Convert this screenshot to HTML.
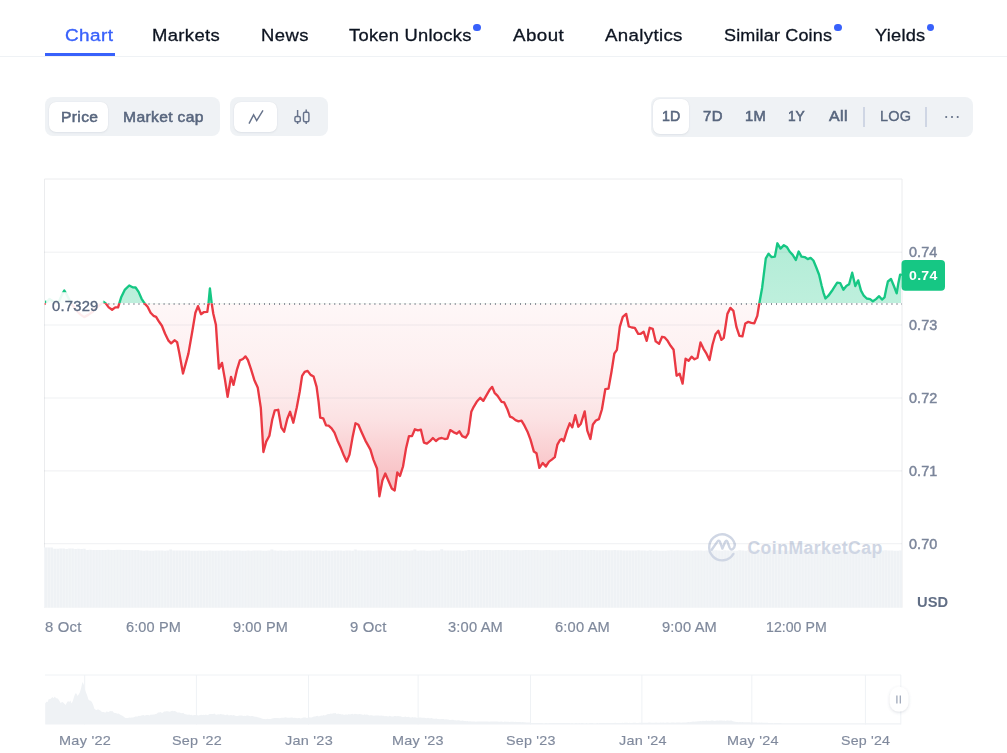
<!DOCTYPE html>
<html><head><meta charset="utf-8">
<style>
*{box-sizing:border-box;margin:0;padding:0}
html,body{width:1007px;height:753px;background:#fff;overflow:hidden}
body{font-family:"Liberation Sans",sans-serif;position:relative;color:#0d1421}
.abs{position:absolute;white-space:nowrap}
.t{position:absolute;white-space:nowrap;line-height:20px;height:20px}
.dot{position:absolute;width:7.8px;height:7.6px;border-radius:50%;background:#3861fb}
.grp{position:absolute;background:#eff2f5;border-radius:8px}
.sel{position:absolute;background:#fff;border-radius:7px;box-shadow:0 1px 2px rgba(128,138,157,.12),0 0 1px rgba(128,138,157,.2)}
</style></head><body>
<div class="dot" style="left:473.1px;top:23.7px"></div>
<div class="dot" style="left:834.2px;top:23.7px"></div>
<div class="dot" style="left:926.6px;top:23.7px"></div>
<div class="abs" style="left:0;top:56px;width:1007px;height:1px;background:#eff2f5"></div>
<div class="abs" style="left:45px;top:53px;width:70px;height:3px;background:#3861fb"></div>

<div class="grp" style="left:45px;top:97px;width:175px;height:39px"></div>
<div class="sel" style="left:49px;top:101.5px;width:59px;height:30.5px"></div>
<div class="grp" style="left:230px;top:97px;width:98px;height:39px"></div>
<div class="sel" style="left:234px;top:101.5px;width:43px;height:30.5px"></div>
<div class="grp" style="left:651px;top:97px;width:322px;height:39.5px"></div>
<div class="sel" style="left:652.5px;top:99px;width:36.5px;height:34.5px"></div>
<div class="abs" style="left:863px;top:107px;width:1.5px;height:20px;background:#cfd6e4"></div>
<div class="abs" style="left:925.2px;top:107px;width:1.5px;height:20px;background:#cfd6e4"></div>

<svg class="abs" style="left:0;top:0" width="1007" height="753" viewBox="0 0 1007 753">
<defs>
<linearGradient id="gr" x1="0" y1="303" x2="0" y2="497" gradientUnits="userSpaceOnUse"><stop offset="0" stop-color="#ea3943" stop-opacity="0.04"/><stop offset="0.294" stop-color="#ea3943" stop-opacity="0.075"/><stop offset="0.5" stop-color="#ea3943" stop-opacity="0.115"/><stop offset="0.603" stop-color="#ea3943" stop-opacity="0.15"/><stop offset="0.784" stop-color="#ea3943" stop-opacity="0.25"/><stop offset="0.861" stop-color="#ea3943" stop-opacity="0.29"/><stop offset="1" stop-color="#ea3943" stop-opacity="0.34"/></linearGradient>
<linearGradient id="gg" x1="0" y1="243" x2="0" y2="303" gradientUnits="userSpaceOnUse"><stop offset="0" stop-color="#16c784" stop-opacity="0.33"/><stop offset="1" stop-color="#16c784" stop-opacity="0.28"/></linearGradient>
<clipPath id="cu"><rect x="44" y="170" width="858" height="133.2"/></clipPath>
<clipPath id="cd"><rect x="44" y="303.2" width="858" height="300"/></clipPath>
<pattern id="st" x="44" y="0" width="2.9792" height="10" patternUnits="userSpaceOnUse"><rect x="0" y="0" width="0.55" height="10" fill="#fff" opacity="0.45"/></pattern>
</defs>
<!-- icons -->
<path d="M249,123.7 L253.6,114.9 L256.7,120.6 L263,110.4" fill="none" stroke="#67738b" stroke-width="1.45" stroke-linejoin="miter"/>
<g fill="none" stroke="#67738b" stroke-width="1.45">
<line x1="297.6" x2="297.6" y1="110" y2="116.3"/><line x1="297.6" x2="297.6" y1="121.9" y2="124"/>
<rect x="294.9" y="116.5" width="5.4" height="5.3" rx="1.5"/>
<line x1="306.2" x2="306.2" y1="109.5" y2="112"/><line x1="306.2" x2="306.2" y1="121.9" y2="124"/>
<rect x="303.5" y="112.2" width="5.4" height="9.6" rx="1.5"/>
</g>
<circle cx="946.2" cy="117" r="1.05" fill="#616e85"/><circle cx="952" cy="117" r="1.05" fill="#616e85"/><circle cx="957.7" cy="117" r="1.05" fill="#616e85"/>
<!-- grid -->
<path d="M44.5,607.7 V179 H902 V607.7" fill="none" stroke="#ebecee" stroke-width="1"/>

<!-- volume -->
<path d="M44,607.7 L44.0,547.5 L47.0,547.5 L47.0,547.6 L50.0,547.6 L50.0,547.5 L52.9,547.5 L52.9,548.8 L55.9,548.8 L55.9,548.8 L58.9,548.8 L58.9,548.5 L61.9,548.5 L61.9,548.5 L64.9,548.5 L64.9,548.9 L67.8,548.9 L67.8,548.6 L70.8,548.6 L70.8,548.6 L73.8,548.6 L73.8,548.9 L76.8,548.9 L76.8,548.7 L79.8,548.7 L79.8,548.9 L82.7,548.9 L82.7,548.7 L85.7,548.7 L85.7,550.0 L88.7,550.0 L88.7,549.7 L91.7,549.7 L91.7,550.0 L94.6,550.0 L94.6,550.1 L97.6,550.1 L97.6,549.9 L100.6,549.9 L100.6,550.0 L103.6,550.0 L103.6,550.0 L106.6,550.0 L106.6,549.7 L109.5,549.7 L109.5,550.0 L112.5,550.0 L112.5,549.9 L115.5,549.9 L115.5,549.8 L118.5,549.8 L118.5,549.7 L121.5,549.7 L121.5,550.1 L124.4,550.1 L124.4,549.9 L127.4,549.9 L127.4,550.0 L130.4,550.0 L130.4,550.1 L133.4,550.1 L133.4,550.0 L136.4,550.0 L136.4,550.1 L139.3,550.1 L139.3,550.5 L142.3,550.5 L142.3,550.8 L145.3,550.8 L145.3,550.6 L148.3,550.6 L148.3,550.8 L151.2,550.8 L151.2,550.8 L154.2,550.8 L154.2,550.4 L157.2,550.4 L157.2,550.4 L160.2,550.4 L160.2,550.5 L163.2,550.5 L163.2,550.8 L166.1,550.8 L166.1,550.6 L169.1,550.6 L169.1,549.5 L172.1,549.5 L172.1,550.5 L175.1,550.5 L175.1,550.6 L178.1,550.6 L178.1,550.5 L181.0,550.5 L181.0,550.5 L184.0,550.5 L184.0,550.6 L187.0,550.6 L187.0,550.6 L190.0,550.6 L190.0,550.8 L193.0,550.8 L193.0,550.7 L195.9,550.7 L195.9,550.8 L198.9,550.8 L198.9,550.8 L201.9,550.8 L201.9,550.8 L204.9,550.8 L204.9,550.7 L207.9,550.7 L207.9,550.4 L210.8,550.4 L210.8,550.8 L213.8,550.8 L213.8,550.8 L216.8,550.8 L216.8,550.8 L219.8,550.8 L219.8,550.6 L222.8,550.6 L222.8,550.7 L225.7,550.7 L225.7,550.5 L228.7,550.5 L228.7,550.8 L231.7,550.8 L231.7,550.6 L234.7,550.6 L234.7,550.5 L237.6,550.5 L237.6,550.4 L240.6,550.4 L240.6,550.8 L243.6,550.8 L243.6,550.8 L246.6,550.8 L246.6,550.4 L249.6,550.4 L249.6,550.8 L252.5,550.8 L252.5,550.6 L255.5,550.6 L255.5,550.4 L258.5,550.4 L258.5,550.5 L261.5,550.5 L261.5,550.7 L264.5,550.7 L264.5,550.8 L267.4,550.8 L267.4,550.4 L270.4,550.4 L270.4,549.5 L273.4,549.5 L273.4,550.4 L276.4,550.4 L276.4,550.7 L279.4,550.7 L279.4,550.5 L282.3,550.5 L282.3,550.8 L285.3,550.8 L285.3,550.8 L288.3,550.8 L288.3,550.6 L291.3,550.6 L291.3,550.8 L294.2,550.8 L294.2,550.5 L297.2,550.5 L297.2,550.4 L300.2,550.4 L300.2,550.6 L303.2,550.6 L303.2,550.4 L306.2,550.4 L306.2,550.4 L309.1,550.4 L309.1,550.6 L312.1,550.6 L312.1,550.7 L315.1,550.7 L315.1,550.4 L318.1,550.4 L318.1,550.4 L321.1,550.4 L321.1,550.8 L324.0,550.8 L324.0,550.5 L327.0,550.5 L327.0,550.8 L330.0,550.8 L330.0,550.8 L333.0,550.8 L333.0,550.5 L336.0,550.5 L336.0,550.6 L338.9,550.6 L338.9,550.6 L341.9,550.6 L341.9,550.7 L344.9,550.7 L344.9,550.6 L347.9,550.6 L347.9,550.6 L350.9,550.6 L350.9,550.7 L353.8,550.7 L353.8,549.6 L356.8,549.6 L356.8,550.6 L359.8,550.6 L359.8,550.6 L362.8,550.6 L362.8,550.7 L365.8,550.7 L365.8,550.5 L368.7,550.5 L368.7,550.5 L371.7,550.5 L371.7,550.8 L374.7,550.8 L374.7,550.6 L377.7,550.6 L377.7,550.6 L380.6,550.6 L380.6,550.4 L383.6,550.4 L383.6,550.6 L386.6,550.6 L386.6,550.6 L389.6,550.6 L389.6,550.4 L392.6,550.4 L392.6,550.7 L395.5,550.7 L395.5,550.7 L398.5,550.7 L398.5,550.4 L401.5,550.4 L401.5,550.7 L404.5,550.7 L404.5,550.6 L407.5,550.6 L407.5,550.7 L410.4,550.7 L410.4,550.5 L413.4,550.5 L413.4,549.5 L416.4,549.5 L416.4,550.7 L419.4,550.7 L419.4,550.4 L422.4,550.4 L422.4,550.4 L425.3,550.4 L425.3,550.7 L428.3,550.7 L428.3,550.8 L431.3,550.8 L431.3,550.5 L434.3,550.5 L434.3,550.6 L437.2,550.6 L437.2,550.6 L440.2,550.6 L440.2,549.3 L443.2,549.3 L443.2,550.5 L446.2,550.5 L446.2,550.5 L449.2,550.5 L449.2,550.5 L452.1,550.5 L452.1,550.6 L455.1,550.6 L455.1,550.5 L458.1,550.5 L458.1,550.5 L461.1,550.5 L461.1,550.7 L464.1,550.7 L464.1,550.4 L467.0,550.4 L467.0,550.1 L470.0,550.1 L470.0,550.2 L473.0,550.2 L473.0,550.0 L476.0,550.0 L476.0,550.0 L479.0,550.0 L479.0,550.3 L481.9,550.3 L481.9,550.0 L484.9,550.0 L484.9,549.9 L487.9,549.9 L487.9,550.1 L490.9,550.1 L490.9,550.2 L493.9,550.2 L493.9,549.9 L496.8,549.9 L496.8,550.0 L499.8,550.0 L499.8,550.0 L502.8,550.0 L502.8,550.3 L505.8,550.3 L505.8,550.1 L508.8,550.1 L508.8,550.3 L511.7,550.3 L511.7,549.9 L514.7,549.9 L514.7,550.0 L517.7,550.0 L517.7,550.2 L520.7,550.2 L520.7,550.3 L523.6,550.3 L523.6,550.1 L526.6,550.1 L526.6,550.0 L529.6,550.0 L529.6,549.9 L532.6,549.9 L532.6,550.1 L535.6,550.1 L535.6,549.9 L538.5,549.9 L538.5,550.3 L541.5,550.3 L541.5,550.3 L544.5,550.3 L544.5,549.9 L547.5,549.9 L547.5,550.0 L550.5,550.0 L550.5,550.3 L553.4,550.3 L553.4,550.2 L556.4,550.2 L556.4,550.3 L559.4,550.3 L559.4,550.0 L562.4,550.0 L562.4,549.9 L565.4,549.9 L565.4,550.0 L568.3,550.0 L568.3,550.2 L571.3,550.2 L571.3,550.0 L574.3,550.0 L574.3,550.0 L577.3,550.0 L577.3,550.1 L580.2,550.1 L580.2,550.1 L583.2,550.1 L583.2,550.1 L586.2,550.1 L586.2,550.3 L589.2,550.3 L589.2,549.9 L592.2,549.9 L592.2,549.9 L595.1,549.9 L595.1,550.3 L598.1,550.3 L598.1,550.3 L601.1,550.3 L601.1,550.3 L604.1,550.3 L604.1,550.1 L607.1,550.1 L607.1,550.3 L610.0,550.3 L610.0,550.3 L613.0,550.3 L613.0,550.0 L616.0,550.0 L616.0,550.2 L619.0,550.2 L619.0,550.3 L622.0,550.3 L622.0,550.6 L624.9,550.6 L624.9,550.5 L627.9,550.5 L627.9,550.4 L630.9,550.4 L630.9,550.4 L633.9,550.4 L633.9,550.4 L636.9,550.4 L636.9,550.3 L639.8,550.3 L639.8,550.5 L642.8,550.5 L642.8,550.4 L645.8,550.4 L645.8,550.7 L648.8,550.7 L648.8,550.3 L651.8,550.3 L651.8,550.7 L654.7,550.7 L654.7,550.6 L657.7,550.6 L657.7,550.7 L660.7,550.7 L660.7,550.7 L663.7,550.7 L663.7,550.7 L666.6,550.7 L666.6,550.5 L669.6,550.5 L669.6,550.3 L672.6,550.3 L672.6,550.6 L675.6,550.6 L675.6,550.3 L678.6,550.3 L678.6,550.4 L681.5,550.4 L681.5,550.6 L684.5,550.6 L684.5,550.5 L687.5,550.5 L687.5,550.5 L690.5,550.5 L690.5,550.7 L693.5,550.7 L693.5,550.6 L696.4,550.6 L696.4,550.4 L699.4,550.4 L699.4,550.4 L702.4,550.4 L702.4,550.7 L705.4,550.7 L705.4,550.5 L708.4,550.5 L708.4,550.6 L711.3,550.6 L711.3,550.4 L714.3,550.4 L714.3,550.3 L717.3,550.3 L717.3,550.5 L720.3,550.5 L720.3,550.7 L723.2,550.7 L723.2,550.3 L726.2,550.3 L726.2,550.6 L729.2,550.6 L729.2,550.7 L732.2,550.7 L732.2,550.7 L735.2,550.7 L735.2,550.7 L738.1,550.7 L738.1,550.3 L741.1,550.3 L741.1,550.6 L744.1,550.6 L744.1,550.7 L747.1,550.7 L747.1,550.3 L750.1,550.3 L750.1,550.4 L753.0,550.4 L753.0,550.4 L756.0,550.4 L756.0,550.5 L759.0,550.5 L759.0,550.5 L762.0,550.5 L762.0,550.5 L765.0,550.5 L765.0,550.6 L767.9,550.6 L767.9,550.3 L770.9,550.3 L770.9,550.3 L773.9,550.3 L773.9,550.3 L776.9,550.3 L776.9,550.3 L779.9,550.3 L779.9,550.3 L782.8,550.3 L782.8,550.7 L785.8,550.7 L785.8,550.7 L788.8,550.7 L788.8,550.3 L791.8,550.3 L791.8,550.5 L794.8,550.5 L794.8,550.4 L797.7,550.4 L797.7,550.4 L800.7,550.4 L800.7,550.4 L803.7,550.4 L803.7,550.6 L806.7,550.6 L806.7,550.5 L809.6,550.5 L809.6,550.4 L812.6,550.4 L812.6,550.3 L815.6,550.3 L815.6,550.4 L818.6,550.4 L818.6,550.3 L821.6,550.3 L821.6,550.5 L824.5,550.5 L824.5,550.6 L827.5,550.6 L827.5,550.4 L830.5,550.4 L830.5,550.3 L833.5,550.3 L833.5,550.3 L836.5,550.3 L836.5,550.4 L839.4,550.4 L839.4,550.6 L842.4,550.6 L842.4,550.6 L845.4,550.6 L845.4,550.4 L848.4,550.4 L848.4,550.7 L851.4,550.7 L851.4,550.6 L854.3,550.6 L854.3,550.5 L857.3,550.5 L857.3,550.4 L860.3,550.4 L860.3,550.5 L863.3,550.5 L863.3,550.6 L866.2,550.6 L866.2,550.5 L869.2,550.5 L869.2,550.6 L872.2,550.6 L872.2,550.5 L875.2,550.5 L875.2,550.4 L878.2,550.4 L878.2,550.5 L881.1,550.5 L881.1,550.6 L884.1,550.6 L884.1,550.3 L887.1,550.3 L887.1,550.5 L890.1,550.5 L890.1,550.5 L893.1,550.5 L893.1,550.7 L896.0,550.7 L896.0,550.7 L899.0,550.7 L899.0,550.4 L902.0,550.4 L902,607.7 Z" fill="#eff2f5"/>
<path d="M44,607.7 L44.0,547.5 L47.0,547.5 L47.0,547.6 L50.0,547.6 L50.0,547.5 L52.9,547.5 L52.9,548.8 L55.9,548.8 L55.9,548.8 L58.9,548.8 L58.9,548.5 L61.9,548.5 L61.9,548.5 L64.9,548.5 L64.9,548.9 L67.8,548.9 L67.8,548.6 L70.8,548.6 L70.8,548.6 L73.8,548.6 L73.8,548.9 L76.8,548.9 L76.8,548.7 L79.8,548.7 L79.8,548.9 L82.7,548.9 L82.7,548.7 L85.7,548.7 L85.7,550.0 L88.7,550.0 L88.7,549.7 L91.7,549.7 L91.7,550.0 L94.6,550.0 L94.6,550.1 L97.6,550.1 L97.6,549.9 L100.6,549.9 L100.6,550.0 L103.6,550.0 L103.6,550.0 L106.6,550.0 L106.6,549.7 L109.5,549.7 L109.5,550.0 L112.5,550.0 L112.5,549.9 L115.5,549.9 L115.5,549.8 L118.5,549.8 L118.5,549.7 L121.5,549.7 L121.5,550.1 L124.4,550.1 L124.4,549.9 L127.4,549.9 L127.4,550.0 L130.4,550.0 L130.4,550.1 L133.4,550.1 L133.4,550.0 L136.4,550.0 L136.4,550.1 L139.3,550.1 L139.3,550.5 L142.3,550.5 L142.3,550.8 L145.3,550.8 L145.3,550.6 L148.3,550.6 L148.3,550.8 L151.2,550.8 L151.2,550.8 L154.2,550.8 L154.2,550.4 L157.2,550.4 L157.2,550.4 L160.2,550.4 L160.2,550.5 L163.2,550.5 L163.2,550.8 L166.1,550.8 L166.1,550.6 L169.1,550.6 L169.1,549.5 L172.1,549.5 L172.1,550.5 L175.1,550.5 L175.1,550.6 L178.1,550.6 L178.1,550.5 L181.0,550.5 L181.0,550.5 L184.0,550.5 L184.0,550.6 L187.0,550.6 L187.0,550.6 L190.0,550.6 L190.0,550.8 L193.0,550.8 L193.0,550.7 L195.9,550.7 L195.9,550.8 L198.9,550.8 L198.9,550.8 L201.9,550.8 L201.9,550.8 L204.9,550.8 L204.9,550.7 L207.9,550.7 L207.9,550.4 L210.8,550.4 L210.8,550.8 L213.8,550.8 L213.8,550.8 L216.8,550.8 L216.8,550.8 L219.8,550.8 L219.8,550.6 L222.8,550.6 L222.8,550.7 L225.7,550.7 L225.7,550.5 L228.7,550.5 L228.7,550.8 L231.7,550.8 L231.7,550.6 L234.7,550.6 L234.7,550.5 L237.6,550.5 L237.6,550.4 L240.6,550.4 L240.6,550.8 L243.6,550.8 L243.6,550.8 L246.6,550.8 L246.6,550.4 L249.6,550.4 L249.6,550.8 L252.5,550.8 L252.5,550.6 L255.5,550.6 L255.5,550.4 L258.5,550.4 L258.5,550.5 L261.5,550.5 L261.5,550.7 L264.5,550.7 L264.5,550.8 L267.4,550.8 L267.4,550.4 L270.4,550.4 L270.4,549.5 L273.4,549.5 L273.4,550.4 L276.4,550.4 L276.4,550.7 L279.4,550.7 L279.4,550.5 L282.3,550.5 L282.3,550.8 L285.3,550.8 L285.3,550.8 L288.3,550.8 L288.3,550.6 L291.3,550.6 L291.3,550.8 L294.2,550.8 L294.2,550.5 L297.2,550.5 L297.2,550.4 L300.2,550.4 L300.2,550.6 L303.2,550.6 L303.2,550.4 L306.2,550.4 L306.2,550.4 L309.1,550.4 L309.1,550.6 L312.1,550.6 L312.1,550.7 L315.1,550.7 L315.1,550.4 L318.1,550.4 L318.1,550.4 L321.1,550.4 L321.1,550.8 L324.0,550.8 L324.0,550.5 L327.0,550.5 L327.0,550.8 L330.0,550.8 L330.0,550.8 L333.0,550.8 L333.0,550.5 L336.0,550.5 L336.0,550.6 L338.9,550.6 L338.9,550.6 L341.9,550.6 L341.9,550.7 L344.9,550.7 L344.9,550.6 L347.9,550.6 L347.9,550.6 L350.9,550.6 L350.9,550.7 L353.8,550.7 L353.8,549.6 L356.8,549.6 L356.8,550.6 L359.8,550.6 L359.8,550.6 L362.8,550.6 L362.8,550.7 L365.8,550.7 L365.8,550.5 L368.7,550.5 L368.7,550.5 L371.7,550.5 L371.7,550.8 L374.7,550.8 L374.7,550.6 L377.7,550.6 L377.7,550.6 L380.6,550.6 L380.6,550.4 L383.6,550.4 L383.6,550.6 L386.6,550.6 L386.6,550.6 L389.6,550.6 L389.6,550.4 L392.6,550.4 L392.6,550.7 L395.5,550.7 L395.5,550.7 L398.5,550.7 L398.5,550.4 L401.5,550.4 L401.5,550.7 L404.5,550.7 L404.5,550.6 L407.5,550.6 L407.5,550.7 L410.4,550.7 L410.4,550.5 L413.4,550.5 L413.4,549.5 L416.4,549.5 L416.4,550.7 L419.4,550.7 L419.4,550.4 L422.4,550.4 L422.4,550.4 L425.3,550.4 L425.3,550.7 L428.3,550.7 L428.3,550.8 L431.3,550.8 L431.3,550.5 L434.3,550.5 L434.3,550.6 L437.2,550.6 L437.2,550.6 L440.2,550.6 L440.2,549.3 L443.2,549.3 L443.2,550.5 L446.2,550.5 L446.2,550.5 L449.2,550.5 L449.2,550.5 L452.1,550.5 L452.1,550.6 L455.1,550.6 L455.1,550.5 L458.1,550.5 L458.1,550.5 L461.1,550.5 L461.1,550.7 L464.1,550.7 L464.1,550.4 L467.0,550.4 L467.0,550.1 L470.0,550.1 L470.0,550.2 L473.0,550.2 L473.0,550.0 L476.0,550.0 L476.0,550.0 L479.0,550.0 L479.0,550.3 L481.9,550.3 L481.9,550.0 L484.9,550.0 L484.9,549.9 L487.9,549.9 L487.9,550.1 L490.9,550.1 L490.9,550.2 L493.9,550.2 L493.9,549.9 L496.8,549.9 L496.8,550.0 L499.8,550.0 L499.8,550.0 L502.8,550.0 L502.8,550.3 L505.8,550.3 L505.8,550.1 L508.8,550.1 L508.8,550.3 L511.7,550.3 L511.7,549.9 L514.7,549.9 L514.7,550.0 L517.7,550.0 L517.7,550.2 L520.7,550.2 L520.7,550.3 L523.6,550.3 L523.6,550.1 L526.6,550.1 L526.6,550.0 L529.6,550.0 L529.6,549.9 L532.6,549.9 L532.6,550.1 L535.6,550.1 L535.6,549.9 L538.5,549.9 L538.5,550.3 L541.5,550.3 L541.5,550.3 L544.5,550.3 L544.5,549.9 L547.5,549.9 L547.5,550.0 L550.5,550.0 L550.5,550.3 L553.4,550.3 L553.4,550.2 L556.4,550.2 L556.4,550.3 L559.4,550.3 L559.4,550.0 L562.4,550.0 L562.4,549.9 L565.4,549.9 L565.4,550.0 L568.3,550.0 L568.3,550.2 L571.3,550.2 L571.3,550.0 L574.3,550.0 L574.3,550.0 L577.3,550.0 L577.3,550.1 L580.2,550.1 L580.2,550.1 L583.2,550.1 L583.2,550.1 L586.2,550.1 L586.2,550.3 L589.2,550.3 L589.2,549.9 L592.2,549.9 L592.2,549.9 L595.1,549.9 L595.1,550.3 L598.1,550.3 L598.1,550.3 L601.1,550.3 L601.1,550.3 L604.1,550.3 L604.1,550.1 L607.1,550.1 L607.1,550.3 L610.0,550.3 L610.0,550.3 L613.0,550.3 L613.0,550.0 L616.0,550.0 L616.0,550.2 L619.0,550.2 L619.0,550.3 L622.0,550.3 L622.0,550.6 L624.9,550.6 L624.9,550.5 L627.9,550.5 L627.9,550.4 L630.9,550.4 L630.9,550.4 L633.9,550.4 L633.9,550.4 L636.9,550.4 L636.9,550.3 L639.8,550.3 L639.8,550.5 L642.8,550.5 L642.8,550.4 L645.8,550.4 L645.8,550.7 L648.8,550.7 L648.8,550.3 L651.8,550.3 L651.8,550.7 L654.7,550.7 L654.7,550.6 L657.7,550.6 L657.7,550.7 L660.7,550.7 L660.7,550.7 L663.7,550.7 L663.7,550.7 L666.6,550.7 L666.6,550.5 L669.6,550.5 L669.6,550.3 L672.6,550.3 L672.6,550.6 L675.6,550.6 L675.6,550.3 L678.6,550.3 L678.6,550.4 L681.5,550.4 L681.5,550.6 L684.5,550.6 L684.5,550.5 L687.5,550.5 L687.5,550.5 L690.5,550.5 L690.5,550.7 L693.5,550.7 L693.5,550.6 L696.4,550.6 L696.4,550.4 L699.4,550.4 L699.4,550.4 L702.4,550.4 L702.4,550.7 L705.4,550.7 L705.4,550.5 L708.4,550.5 L708.4,550.6 L711.3,550.6 L711.3,550.4 L714.3,550.4 L714.3,550.3 L717.3,550.3 L717.3,550.5 L720.3,550.5 L720.3,550.7 L723.2,550.7 L723.2,550.3 L726.2,550.3 L726.2,550.6 L729.2,550.6 L729.2,550.7 L732.2,550.7 L732.2,550.7 L735.2,550.7 L735.2,550.7 L738.1,550.7 L738.1,550.3 L741.1,550.3 L741.1,550.6 L744.1,550.6 L744.1,550.7 L747.1,550.7 L747.1,550.3 L750.1,550.3 L750.1,550.4 L753.0,550.4 L753.0,550.4 L756.0,550.4 L756.0,550.5 L759.0,550.5 L759.0,550.5 L762.0,550.5 L762.0,550.5 L765.0,550.5 L765.0,550.6 L767.9,550.6 L767.9,550.3 L770.9,550.3 L770.9,550.3 L773.9,550.3 L773.9,550.3 L776.9,550.3 L776.9,550.3 L779.9,550.3 L779.9,550.3 L782.8,550.3 L782.8,550.7 L785.8,550.7 L785.8,550.7 L788.8,550.7 L788.8,550.3 L791.8,550.3 L791.8,550.5 L794.8,550.5 L794.8,550.4 L797.7,550.4 L797.7,550.4 L800.7,550.4 L800.7,550.4 L803.7,550.4 L803.7,550.6 L806.7,550.6 L806.7,550.5 L809.6,550.5 L809.6,550.4 L812.6,550.4 L812.6,550.3 L815.6,550.3 L815.6,550.4 L818.6,550.4 L818.6,550.3 L821.6,550.3 L821.6,550.5 L824.5,550.5 L824.5,550.6 L827.5,550.6 L827.5,550.4 L830.5,550.4 L830.5,550.3 L833.5,550.3 L833.5,550.3 L836.5,550.3 L836.5,550.4 L839.4,550.4 L839.4,550.6 L842.4,550.6 L842.4,550.6 L845.4,550.6 L845.4,550.4 L848.4,550.4 L848.4,550.7 L851.4,550.7 L851.4,550.6 L854.3,550.6 L854.3,550.5 L857.3,550.5 L857.3,550.4 L860.3,550.4 L860.3,550.5 L863.3,550.5 L863.3,550.6 L866.2,550.6 L866.2,550.5 L869.2,550.5 L869.2,550.6 L872.2,550.6 L872.2,550.5 L875.2,550.5 L875.2,550.4 L878.2,550.4 L878.2,550.5 L881.1,550.5 L881.1,550.6 L884.1,550.6 L884.1,550.3 L887.1,550.3 L887.1,550.5 L890.1,550.5 L890.1,550.5 L893.1,550.5 L893.1,550.7 L896.0,550.7 L896.0,550.7 L899.0,550.7 L899.0,550.4 L902.0,550.4 L902,607.7 Z" fill="url(#st)"/>
<!-- watermark -->
<g fill="none" stroke="#cfd6e4" stroke-width="2.4" stroke-linecap="round" stroke-linejoin="round">
<path d="M733.4,553.9 A13,13 0 1 1 734.9,544.6"/>
<path d="M711.7,549.8 L717.4,541.6 Q718.9,539.6 720,541.8 L722.4,548.6 L725.2,541.8 Q726.4,539.6 727.5,541.8 L729.6,547.6 Q730.8,550.4 732.8,549 Q734.7,547.6 734.9,544.6"/>
</g>
<text x="747.4" y="554.2" font-family="Liberation Sans, sans-serif" font-weight="bold" font-size="17.6" fill="#cfd6e4" textLength="134.8" lengthAdjust="spacing">CoinMarketCap</text>
<!-- chart -->
<path d="M103.7,301.8 L105.7,303.4 L108.7,307.4 L112.1,309.8 L115.3,307.4 L118.1,307.4 L119.3,303.4 L121.3,296.9 L124.7,289.9 L129.2,285.5 L132.6,287.3 L135.6,287.5 L138.6,291.9 L141.6,298.8 L144.6,303.4 L147.6,306.8 L150.6,312.8 L153.5,315.8 L156.1,316.8 L159.1,321.8 L161.9,325.7 L165.1,333.7 L168.5,340.7 L171.1,343.3 L174.5,340.3 L177.1,342.1 L179.4,353.6 L183.0,373.5 L188.4,353.6 L192.4,330.7 L195.4,312.8 L198.0,306.2 L201.0,314.2 L203.7,312.2 L207.3,311.8 L208.5,303.4 L209.9,288.5 L211.7,303.4 L213.3,313.8 L215.9,324.7 L217.7,351.6 L218.9,368.6 L222.0,362.9 L225.0,379.9 L227.6,396.8 L231.0,376.9 L233.5,384.9 L236.9,369.9 L239.9,360.4 L242.9,359.0 L245.5,356.4 L247.9,360.0 L250.9,368.9 L254.3,379.9 L257.8,387.8 L260.8,407.8 L263.4,452.0 L266.2,441.6 L269.4,435.7 L272.2,419.7 L274.8,410.4 L278.2,409.8 L281.4,427.7 L284.1,431.7 L287.3,418.7 L290.1,411.8 L293.3,422.7 L296.7,407.8 L299.7,391.8 L302.1,375.9 L304.7,371.9 L307.6,370.9 L310.6,374.9 L313.6,376.5 L316.6,386.9 L318.6,401.8 L320.2,417.7 L323.2,418.3 L326.0,425.3 L328.6,425.7 L331.6,428.3 L334.5,432.7 L337.9,441.6 L341.1,448.6 L343.9,455.6 L346.7,461.6 L349.5,454.6 L352.5,437.6 L355.5,423.3 L358.4,424.7 L361.4,431.7 L365.4,440.6 L370.4,449.6 L373.4,459.6 L377.0,468.5 L379.4,496.4 L382.4,480.5 L385.3,473.5 L388.3,480.5 L391.7,488.4 L394.7,490.4 L397.3,472.5 L400.0,475.9 L403.0,466.5 L406.0,448.6 L409.0,436.1 L412.0,436.1 L414.9,429.3 L417.9,430.3 L420.9,429.7 L423.9,442.6 L426.9,443.6 L429.9,441.2 L432.9,438.0 L435.9,441.0 L438.8,438.6 L441.8,438.0 L444.8,439.0 L447.4,438.6 L450.2,430.1 L453.4,432.1 L456.8,433.7 L459.4,431.3 L462.2,436.1 L465.7,437.6 L468.3,433.3 L469.7,423.7 L471.3,411.8 L473.7,406.8 L476.7,401.8 L480.3,397.8 L483.3,400.8 L486.7,394.8 L489.6,389.8 L492.2,386.9 L494.6,392.8 L497.6,395.8 L501.6,401.8 L504.2,402.4 L507.6,409.8 L510.0,416.7 L512.5,417.7 L515.5,420.1 L518.5,421.3 L521.5,420.7 L524.5,425.7 L527.5,431.7 L530.5,439.6 L533.9,451.6 L536.5,453.2 L539.4,467.9 L542.8,462.9 L545.8,466.5 L549.0,461.6 L551.8,459.6 L554.8,457.2 L557.4,444.6 L560.0,440.0 L561.8,439.0 L563.7,441.2 L566.9,430.7 L569.7,423.3 L572.3,427.3 L575.3,415.1 L578.3,426.7 L580.9,423.7 L584.7,411.4 L587.3,430.7 L590.4,439.0 L592.9,424.5 L595.9,420.5 L598.9,419.1 L601.9,409.5 L605.3,389.2 L608.5,388.6 L611.5,371.7 L614.3,353.7 L616.9,349.8 L619.8,326.9 L622.8,316.9 L626.2,313.9 L628.8,326.5 L631.8,327.5 L634.8,327.8 L638.2,333.8 L640.8,333.8 L643.7,331.8 L646.7,340.8 L649.7,327.8 L652.7,328.8 L655.7,341.4 L659.1,343.8 L662.1,336.8 L664.7,337.4 L667.6,340.8 L670.6,345.8 L673.6,349.8 L676.6,375.7 L679.6,373.7 L682.6,383.6 L685.6,358.7 L688.6,360.7 L691.6,356.7 L694.5,359.3 L697.5,357.7 L700.5,342.4 L703.5,348.8 L706.5,353.7 L709.5,360.1 L712.5,344.8 L715.5,334.2 L718.4,330.8 L721.4,339.8 L723.8,337.8 L727.4,313.9 L730.4,307.9 L733.4,310.9 L736.4,326.9 L739.4,335.8 L742.4,336.4 L745.3,323.5 L748.3,321.9 L751.3,322.9 L754.3,323.3 L757.3,315.9 L759.3,303.5 L762.1,288.0 L763.8,274.4 L765.8,258.3 L768.6,253.7 L771.5,257.1 L774.9,256.6 L777.4,243.3 L780.5,248.6 L783.9,245.2 L786.8,246.9 L789.6,251.5 L792.7,254.9 L795.8,260.0 L798.7,251.5 L801.5,256.6 L804.6,257.1 L807.7,259.1 L810.6,257.9 L813.4,260.5 L816.2,267.3 L819.1,274.7 L821.6,285.5 L823.6,293.1 L825.5,298.5 L828.4,295.7 L832.7,289.7 L837.2,282.6 L840.3,283.2 L843.4,289.7 L846.3,286.0 L849.1,284.3 L852.2,272.7 L855.3,286.0 L858.2,280.4 L861.0,290.6 L863.8,295.7 L866.7,298.5 L870.1,299.1 L872.9,301.3 L876.0,299.1 L879.1,296.2 L882.0,299.6 L884.5,297.4 L886.2,288.9 L887.9,281.5 L891.0,279.0 L893.9,286.0 L896.7,293.4 L898.4,282.9 L900.1,274.7 L901.0,274.7 L901.0,303.2 L103.7,303.2 Z" fill="url(#gg)" clip-path="url(#cu)"/>
<path d="M103.7,301.8 L105.7,303.4 L108.7,307.4 L112.1,309.8 L115.3,307.4 L118.1,307.4 L119.3,303.4 L121.3,296.9 L124.7,289.9 L129.2,285.5 L132.6,287.3 L135.6,287.5 L138.6,291.9 L141.6,298.8 L144.6,303.4 L147.6,306.8 L150.6,312.8 L153.5,315.8 L156.1,316.8 L159.1,321.8 L161.9,325.7 L165.1,333.7 L168.5,340.7 L171.1,343.3 L174.5,340.3 L177.1,342.1 L179.4,353.6 L183.0,373.5 L188.4,353.6 L192.4,330.7 L195.4,312.8 L198.0,306.2 L201.0,314.2 L203.7,312.2 L207.3,311.8 L208.5,303.4 L209.9,288.5 L211.7,303.4 L213.3,313.8 L215.9,324.7 L217.7,351.6 L218.9,368.6 L222.0,362.9 L225.0,379.9 L227.6,396.8 L231.0,376.9 L233.5,384.9 L236.9,369.9 L239.9,360.4 L242.9,359.0 L245.5,356.4 L247.9,360.0 L250.9,368.9 L254.3,379.9 L257.8,387.8 L260.8,407.8 L263.4,452.0 L266.2,441.6 L269.4,435.7 L272.2,419.7 L274.8,410.4 L278.2,409.8 L281.4,427.7 L284.1,431.7 L287.3,418.7 L290.1,411.8 L293.3,422.7 L296.7,407.8 L299.7,391.8 L302.1,375.9 L304.7,371.9 L307.6,370.9 L310.6,374.9 L313.6,376.5 L316.6,386.9 L318.6,401.8 L320.2,417.7 L323.2,418.3 L326.0,425.3 L328.6,425.7 L331.6,428.3 L334.5,432.7 L337.9,441.6 L341.1,448.6 L343.9,455.6 L346.7,461.6 L349.5,454.6 L352.5,437.6 L355.5,423.3 L358.4,424.7 L361.4,431.7 L365.4,440.6 L370.4,449.6 L373.4,459.6 L377.0,468.5 L379.4,496.4 L382.4,480.5 L385.3,473.5 L388.3,480.5 L391.7,488.4 L394.7,490.4 L397.3,472.5 L400.0,475.9 L403.0,466.5 L406.0,448.6 L409.0,436.1 L412.0,436.1 L414.9,429.3 L417.9,430.3 L420.9,429.7 L423.9,442.6 L426.9,443.6 L429.9,441.2 L432.9,438.0 L435.9,441.0 L438.8,438.6 L441.8,438.0 L444.8,439.0 L447.4,438.6 L450.2,430.1 L453.4,432.1 L456.8,433.7 L459.4,431.3 L462.2,436.1 L465.7,437.6 L468.3,433.3 L469.7,423.7 L471.3,411.8 L473.7,406.8 L476.7,401.8 L480.3,397.8 L483.3,400.8 L486.7,394.8 L489.6,389.8 L492.2,386.9 L494.6,392.8 L497.6,395.8 L501.6,401.8 L504.2,402.4 L507.6,409.8 L510.0,416.7 L512.5,417.7 L515.5,420.1 L518.5,421.3 L521.5,420.7 L524.5,425.7 L527.5,431.7 L530.5,439.6 L533.9,451.6 L536.5,453.2 L539.4,467.9 L542.8,462.9 L545.8,466.5 L549.0,461.6 L551.8,459.6 L554.8,457.2 L557.4,444.6 L560.0,440.0 L561.8,439.0 L563.7,441.2 L566.9,430.7 L569.7,423.3 L572.3,427.3 L575.3,415.1 L578.3,426.7 L580.9,423.7 L584.7,411.4 L587.3,430.7 L590.4,439.0 L592.9,424.5 L595.9,420.5 L598.9,419.1 L601.9,409.5 L605.3,389.2 L608.5,388.6 L611.5,371.7 L614.3,353.7 L616.9,349.8 L619.8,326.9 L622.8,316.9 L626.2,313.9 L628.8,326.5 L631.8,327.5 L634.8,327.8 L638.2,333.8 L640.8,333.8 L643.7,331.8 L646.7,340.8 L649.7,327.8 L652.7,328.8 L655.7,341.4 L659.1,343.8 L662.1,336.8 L664.7,337.4 L667.6,340.8 L670.6,345.8 L673.6,349.8 L676.6,375.7 L679.6,373.7 L682.6,383.6 L685.6,358.7 L688.6,360.7 L691.6,356.7 L694.5,359.3 L697.5,357.7 L700.5,342.4 L703.5,348.8 L706.5,353.7 L709.5,360.1 L712.5,344.8 L715.5,334.2 L718.4,330.8 L721.4,339.8 L723.8,337.8 L727.4,313.9 L730.4,307.9 L733.4,310.9 L736.4,326.9 L739.4,335.8 L742.4,336.4 L745.3,323.5 L748.3,321.9 L751.3,322.9 L754.3,323.3 L757.3,315.9 L759.3,303.5 L762.1,288.0 L763.8,274.4 L765.8,258.3 L768.6,253.7 L771.5,257.1 L774.9,256.6 L777.4,243.3 L780.5,248.6 L783.9,245.2 L786.8,246.9 L789.6,251.5 L792.7,254.9 L795.8,260.0 L798.7,251.5 L801.5,256.6 L804.6,257.1 L807.7,259.1 L810.6,257.9 L813.4,260.5 L816.2,267.3 L819.1,274.7 L821.6,285.5 L823.6,293.1 L825.5,298.5 L828.4,295.7 L832.7,289.7 L837.2,282.6 L840.3,283.2 L843.4,289.7 L846.3,286.0 L849.1,284.3 L852.2,272.7 L855.3,286.0 L858.2,280.4 L861.0,290.6 L863.8,295.7 L866.7,298.5 L870.1,299.1 L872.9,301.3 L876.0,299.1 L879.1,296.2 L882.0,299.6 L884.5,297.4 L886.2,288.9 L887.9,281.5 L891.0,279.0 L893.9,286.0 L896.7,293.4 L898.4,282.9 L900.1,274.7 L901.0,274.7 L901.0,303.2 L103.7,303.2 Z" fill="url(#gr)" clip-path="url(#cd)"/>
<line x1="44" x2="902" y1="252.2" y2="252.2" stroke="#808a9d" stroke-opacity="0.13" stroke-width="1"/>
<line x1="44" x2="902" y1="325.0" y2="325.0" stroke="#808a9d" stroke-opacity="0.13" stroke-width="1"/>
<line x1="44" x2="902" y1="398.0" y2="398.0" stroke="#808a9d" stroke-opacity="0.13" stroke-width="1"/>
<line x1="44" x2="902" y1="470.9" y2="470.9" stroke="#808a9d" stroke-opacity="0.13" stroke-width="1"/>
<line x1="44" x2="902" y1="543.7" y2="543.7" stroke="#808a9d" stroke-opacity="0.13" stroke-width="1"/>

<line x1="108.36" x2="902" y1="304" y2="304" stroke="#8a8f98" stroke-width="1.8" stroke-dasharray="1 4.02"/>
<path d="M103.7,301.8 L105.7,303.4 L108.7,307.4 L112.1,309.8 L115.3,307.4 L118.1,307.4 L119.3,303.4 L121.3,296.9 L124.7,289.9 L129.2,285.5 L132.6,287.3 L135.6,287.5 L138.6,291.9 L141.6,298.8 L144.6,303.4 L147.6,306.8 L150.6,312.8 L153.5,315.8 L156.1,316.8 L159.1,321.8 L161.9,325.7 L165.1,333.7 L168.5,340.7 L171.1,343.3 L174.5,340.3 L177.1,342.1 L179.4,353.6 L183.0,373.5 L188.4,353.6 L192.4,330.7 L195.4,312.8 L198.0,306.2 L201.0,314.2 L203.7,312.2 L207.3,311.8 L208.5,303.4 L209.9,288.5 L211.7,303.4 L213.3,313.8 L215.9,324.7 L217.7,351.6 L218.9,368.6 L222.0,362.9 L225.0,379.9 L227.6,396.8 L231.0,376.9 L233.5,384.9 L236.9,369.9 L239.9,360.4 L242.9,359.0 L245.5,356.4 L247.9,360.0 L250.9,368.9 L254.3,379.9 L257.8,387.8 L260.8,407.8 L263.4,452.0 L266.2,441.6 L269.4,435.7 L272.2,419.7 L274.8,410.4 L278.2,409.8 L281.4,427.7 L284.1,431.7 L287.3,418.7 L290.1,411.8 L293.3,422.7 L296.7,407.8 L299.7,391.8 L302.1,375.9 L304.7,371.9 L307.6,370.9 L310.6,374.9 L313.6,376.5 L316.6,386.9 L318.6,401.8 L320.2,417.7 L323.2,418.3 L326.0,425.3 L328.6,425.7 L331.6,428.3 L334.5,432.7 L337.9,441.6 L341.1,448.6 L343.9,455.6 L346.7,461.6 L349.5,454.6 L352.5,437.6 L355.5,423.3 L358.4,424.7 L361.4,431.7 L365.4,440.6 L370.4,449.6 L373.4,459.6 L377.0,468.5 L379.4,496.4 L382.4,480.5 L385.3,473.5 L388.3,480.5 L391.7,488.4 L394.7,490.4 L397.3,472.5 L400.0,475.9 L403.0,466.5 L406.0,448.6 L409.0,436.1 L412.0,436.1 L414.9,429.3 L417.9,430.3 L420.9,429.7 L423.9,442.6 L426.9,443.6 L429.9,441.2 L432.9,438.0 L435.9,441.0 L438.8,438.6 L441.8,438.0 L444.8,439.0 L447.4,438.6 L450.2,430.1 L453.4,432.1 L456.8,433.7 L459.4,431.3 L462.2,436.1 L465.7,437.6 L468.3,433.3 L469.7,423.7 L471.3,411.8 L473.7,406.8 L476.7,401.8 L480.3,397.8 L483.3,400.8 L486.7,394.8 L489.6,389.8 L492.2,386.9 L494.6,392.8 L497.6,395.8 L501.6,401.8 L504.2,402.4 L507.6,409.8 L510.0,416.7 L512.5,417.7 L515.5,420.1 L518.5,421.3 L521.5,420.7 L524.5,425.7 L527.5,431.7 L530.5,439.6 L533.9,451.6 L536.5,453.2 L539.4,467.9 L542.8,462.9 L545.8,466.5 L549.0,461.6 L551.8,459.6 L554.8,457.2 L557.4,444.6 L560.0,440.0 L561.8,439.0 L563.7,441.2 L566.9,430.7 L569.7,423.3 L572.3,427.3 L575.3,415.1 L578.3,426.7 L580.9,423.7 L584.7,411.4 L587.3,430.7 L590.4,439.0 L592.9,424.5 L595.9,420.5 L598.9,419.1 L601.9,409.5 L605.3,389.2 L608.5,388.6 L611.5,371.7 L614.3,353.7 L616.9,349.8 L619.8,326.9 L622.8,316.9 L626.2,313.9 L628.8,326.5 L631.8,327.5 L634.8,327.8 L638.2,333.8 L640.8,333.8 L643.7,331.8 L646.7,340.8 L649.7,327.8 L652.7,328.8 L655.7,341.4 L659.1,343.8 L662.1,336.8 L664.7,337.4 L667.6,340.8 L670.6,345.8 L673.6,349.8 L676.6,375.7 L679.6,373.7 L682.6,383.6 L685.6,358.7 L688.6,360.7 L691.6,356.7 L694.5,359.3 L697.5,357.7 L700.5,342.4 L703.5,348.8 L706.5,353.7 L709.5,360.1 L712.5,344.8 L715.5,334.2 L718.4,330.8 L721.4,339.8 L723.8,337.8 L727.4,313.9 L730.4,307.9 L733.4,310.9 L736.4,326.9 L739.4,335.8 L742.4,336.4 L745.3,323.5 L748.3,321.9 L751.3,322.9 L754.3,323.3 L757.3,315.9 L759.3,303.5 L762.1,288.0 L763.8,274.4 L765.8,258.3 L768.6,253.7 L771.5,257.1 L774.9,256.6 L777.4,243.3 L780.5,248.6 L783.9,245.2 L786.8,246.9 L789.6,251.5 L792.7,254.9 L795.8,260.0 L798.7,251.5 L801.5,256.6 L804.6,257.1 L807.7,259.1 L810.6,257.9 L813.4,260.5 L816.2,267.3 L819.1,274.7 L821.6,285.5 L823.6,293.1 L825.5,298.5 L828.4,295.7 L832.7,289.7 L837.2,282.6 L840.3,283.2 L843.4,289.7 L846.3,286.0 L849.1,284.3 L852.2,272.7 L855.3,286.0 L858.2,280.4 L861.0,290.6 L863.8,295.7 L866.7,298.5 L870.1,299.1 L872.9,301.3 L876.0,299.1 L879.1,296.2 L882.0,299.6 L884.5,297.4 L886.2,288.9 L887.9,281.5 L891.0,279.0 L893.9,286.0 L896.7,293.4 L898.4,282.9 L900.1,274.7 L901.0,274.7" fill="none" stroke="#16c784" stroke-width="2.35" stroke-linejoin="round" stroke-linecap="round" clip-path="url(#cu)"/>
<path d="M103.7,301.8 L105.7,303.4 L108.7,307.4 L112.1,309.8 L115.3,307.4 L118.1,307.4 L119.3,303.4 L121.3,296.9 L124.7,289.9 L129.2,285.5 L132.6,287.3 L135.6,287.5 L138.6,291.9 L141.6,298.8 L144.6,303.4 L147.6,306.8 L150.6,312.8 L153.5,315.8 L156.1,316.8 L159.1,321.8 L161.9,325.7 L165.1,333.7 L168.5,340.7 L171.1,343.3 L174.5,340.3 L177.1,342.1 L179.4,353.6 L183.0,373.5 L188.4,353.6 L192.4,330.7 L195.4,312.8 L198.0,306.2 L201.0,314.2 L203.7,312.2 L207.3,311.8 L208.5,303.4 L209.9,288.5 L211.7,303.4 L213.3,313.8 L215.9,324.7 L217.7,351.6 L218.9,368.6 L222.0,362.9 L225.0,379.9 L227.6,396.8 L231.0,376.9 L233.5,384.9 L236.9,369.9 L239.9,360.4 L242.9,359.0 L245.5,356.4 L247.9,360.0 L250.9,368.9 L254.3,379.9 L257.8,387.8 L260.8,407.8 L263.4,452.0 L266.2,441.6 L269.4,435.7 L272.2,419.7 L274.8,410.4 L278.2,409.8 L281.4,427.7 L284.1,431.7 L287.3,418.7 L290.1,411.8 L293.3,422.7 L296.7,407.8 L299.7,391.8 L302.1,375.9 L304.7,371.9 L307.6,370.9 L310.6,374.9 L313.6,376.5 L316.6,386.9 L318.6,401.8 L320.2,417.7 L323.2,418.3 L326.0,425.3 L328.6,425.7 L331.6,428.3 L334.5,432.7 L337.9,441.6 L341.1,448.6 L343.9,455.6 L346.7,461.6 L349.5,454.6 L352.5,437.6 L355.5,423.3 L358.4,424.7 L361.4,431.7 L365.4,440.6 L370.4,449.6 L373.4,459.6 L377.0,468.5 L379.4,496.4 L382.4,480.5 L385.3,473.5 L388.3,480.5 L391.7,488.4 L394.7,490.4 L397.3,472.5 L400.0,475.9 L403.0,466.5 L406.0,448.6 L409.0,436.1 L412.0,436.1 L414.9,429.3 L417.9,430.3 L420.9,429.7 L423.9,442.6 L426.9,443.6 L429.9,441.2 L432.9,438.0 L435.9,441.0 L438.8,438.6 L441.8,438.0 L444.8,439.0 L447.4,438.6 L450.2,430.1 L453.4,432.1 L456.8,433.7 L459.4,431.3 L462.2,436.1 L465.7,437.6 L468.3,433.3 L469.7,423.7 L471.3,411.8 L473.7,406.8 L476.7,401.8 L480.3,397.8 L483.3,400.8 L486.7,394.8 L489.6,389.8 L492.2,386.9 L494.6,392.8 L497.6,395.8 L501.6,401.8 L504.2,402.4 L507.6,409.8 L510.0,416.7 L512.5,417.7 L515.5,420.1 L518.5,421.3 L521.5,420.7 L524.5,425.7 L527.5,431.7 L530.5,439.6 L533.9,451.6 L536.5,453.2 L539.4,467.9 L542.8,462.9 L545.8,466.5 L549.0,461.6 L551.8,459.6 L554.8,457.2 L557.4,444.6 L560.0,440.0 L561.8,439.0 L563.7,441.2 L566.9,430.7 L569.7,423.3 L572.3,427.3 L575.3,415.1 L578.3,426.7 L580.9,423.7 L584.7,411.4 L587.3,430.7 L590.4,439.0 L592.9,424.5 L595.9,420.5 L598.9,419.1 L601.9,409.5 L605.3,389.2 L608.5,388.6 L611.5,371.7 L614.3,353.7 L616.9,349.8 L619.8,326.9 L622.8,316.9 L626.2,313.9 L628.8,326.5 L631.8,327.5 L634.8,327.8 L638.2,333.8 L640.8,333.8 L643.7,331.8 L646.7,340.8 L649.7,327.8 L652.7,328.8 L655.7,341.4 L659.1,343.8 L662.1,336.8 L664.7,337.4 L667.6,340.8 L670.6,345.8 L673.6,349.8 L676.6,375.7 L679.6,373.7 L682.6,383.6 L685.6,358.7 L688.6,360.7 L691.6,356.7 L694.5,359.3 L697.5,357.7 L700.5,342.4 L703.5,348.8 L706.5,353.7 L709.5,360.1 L712.5,344.8 L715.5,334.2 L718.4,330.8 L721.4,339.8 L723.8,337.8 L727.4,313.9 L730.4,307.9 L733.4,310.9 L736.4,326.9 L739.4,335.8 L742.4,336.4 L745.3,323.5 L748.3,321.9 L751.3,322.9 L754.3,323.3 L757.3,315.9 L759.3,303.5 L762.1,288.0 L763.8,274.4 L765.8,258.3 L768.6,253.7 L771.5,257.1 L774.9,256.6 L777.4,243.3 L780.5,248.6 L783.9,245.2 L786.8,246.9 L789.6,251.5 L792.7,254.9 L795.8,260.0 L798.7,251.5 L801.5,256.6 L804.6,257.1 L807.7,259.1 L810.6,257.9 L813.4,260.5 L816.2,267.3 L819.1,274.7 L821.6,285.5 L823.6,293.1 L825.5,298.5 L828.4,295.7 L832.7,289.7 L837.2,282.6 L840.3,283.2 L843.4,289.7 L846.3,286.0 L849.1,284.3 L852.2,272.7 L855.3,286.0 L858.2,280.4 L861.0,290.6 L863.8,295.7 L866.7,298.5 L870.1,299.1 L872.9,301.3 L876.0,299.1 L879.1,296.2 L882.0,299.6 L884.5,297.4 L886.2,288.9 L887.9,281.5 L891.0,279.0 L893.9,286.0 L896.7,293.4 L898.4,282.9 L900.1,274.7 L901.0,274.7" fill="none" stroke="#ea3943" stroke-width="2.35" stroke-linejoin="round" stroke-linecap="round" clip-path="url(#cd)"/>
<path d="M46.1,302.8 L49.4,298.9 L52.5,301.0 L56.0,302.6 L59.2,301.0 L61.9,294.7 L64.3,290.5 L66.8,294.7 L69.5,300.1 L71.3,303.4 L75.7,309.5 L80.2,314.4 L84.2,317.1 L88.3,314.9 L92.7,311.7 L95.4,308.6 L99.0,305.5 L101.7,303.4 L103.7,301.8 L103.7,303.2 L46.1,303.2 Z" fill="url(#gg)" clip-path="url(#cu)"/>
<path d="M46.1,302.8 L49.4,298.9 L52.5,301.0 L56.0,302.6 L59.2,301.0 L61.9,294.7 L64.3,290.5 L66.8,294.7 L69.5,300.1 L71.3,303.4 L75.7,309.5 L80.2,314.4 L84.2,317.1 L88.3,314.9 L92.7,311.7 L95.4,308.6 L99.0,305.5 L101.7,303.4 L103.7,301.8 L103.7,303.2 L46.1,303.2 Z" fill="url(#gr)" clip-path="url(#cd)"/>
<path d="M46.1,302.8 L49.4,298.9 L52.5,301.0 L56.0,302.6 L59.2,301.0 L61.9,294.7 L64.3,290.5 L66.8,294.7 L69.5,300.1 L71.3,303.4 L75.7,309.5 L80.2,314.4 L84.2,317.1 L88.3,314.9 L92.7,311.7 L95.4,308.6 L99.0,305.5 L101.7,303.4 L103.7,301.8" fill="none" stroke="#16c784" stroke-width="2.35" stroke-linejoin="round" clip-path="url(#cu)"/>
<path d="M46.1,302.8 L49.4,298.9 L52.5,301.0 L56.0,302.6 L59.2,301.0 L61.9,294.7 L64.3,290.5 L66.8,294.7 L69.5,300.1 L71.3,303.4 L75.7,309.5 L80.2,314.4 L84.2,317.1 L88.3,314.9 L92.7,311.7 L95.4,308.6 L99.0,305.5 L101.7,303.4 L103.7,301.8" fill="none" stroke="#ea3943" stroke-width="2.35" stroke-linejoin="round" clip-path="url(#cd)"/>
<rect x="46.2" y="292.2" width="57.2" height="29" fill="#fff" opacity="0.9"/>
<rect x="45" y="300.6" width="1" height="2.6" fill="#16c784"/><rect x="44.6" y="303.2" width="1.2" height="1.6" fill="#ea3943"/>
<!-- price tag -->
<rect x="901.5" y="260" width="43.5" height="30.8" rx="4" fill="#16c784"/>
<!-- mini chart -->
<line x1="45" x2="901" y1="675" y2="675" stroke="#eff2f5" stroke-width="1"/>
<line x1="900.8" x2="900.8" y1="675" y2="724.5" stroke="#eff2f5" stroke-width="1"/>
<line x1="84.7" x2="84.7" y1="675" y2="724.5" stroke="#eff2f5" stroke-width="1"/><line x1="196.4" x2="196.4" y1="675" y2="724.5" stroke="#eff2f5" stroke-width="1"/><line x1="308.5" x2="308.5" y1="675" y2="724.5" stroke="#eff2f5" stroke-width="1"/><line x1="418.1" x2="418.1" y1="675" y2="724.5" stroke="#eff2f5" stroke-width="1"/><line x1="530.5" x2="530.5" y1="675" y2="724.5" stroke="#eff2f5" stroke-width="1"/><line x1="641.9" x2="641.9" y1="675" y2="724.5" stroke="#eff2f5" stroke-width="1"/><line x1="751.8" x2="751.8" y1="675" y2="724.5" stroke="#eff2f5" stroke-width="1"/><line x1="865.4" x2="865.4" y1="675" y2="724.5" stroke="#eff2f5" stroke-width="1"/>
<path d="M45.2,703.5 L46.4,701.8 L47.6,701.9 L48.8,699.1 L50.0,699.2 L51.2,698.2 L52.4,697.0 L53.6,698.2 L54.8,696.5 L56.0,698.2 L57.2,698.2 L58.4,699.3 L59.6,701.3 L60.8,703.2 L62.0,701.8 L63.2,702.4 L64.4,703.8 L65.6,704.9 L66.8,702.8 L68.0,701.0 L69.2,702.1 L70.4,700.6 L71.6,703.6 L72.8,701.0 L74.0,697.1 L75.2,693.6 L76.4,693.5 L77.6,695.9 L78.8,694.3 L80.0,692.0 L81.2,687.8 L82.4,681.9 L83.6,684.1 L84.8,689.2 L86.0,692.6 L87.2,695.6 L88.4,699.6 L89.6,700.5 L90.8,700.8 L92.0,702.2 L93.2,705.1 L94.4,708.7 L95.6,709.8 L96.8,709.9 L98.0,709.3 L99.2,710.1 L100.4,710.6 L101.6,711.7 L102.8,712.0 L104.0,711.9 L105.2,712.8 L106.4,711.4 L107.6,711.7 L108.8,712.0 L110.0,710.9 L111.2,711.3 L112.4,711.1 L113.6,712.4 L114.8,712.9 L116.0,713.0 L117.2,713.8 L118.4,713.4 L119.6,714.3 L120.8,714.9 L122.0,715.6 L123.2,716.2 L124.4,717.3 L125.6,718.1 L126.8,718.0 L128.0,718.0 L129.2,717.4 L130.4,717.7 L131.6,717.5 L132.8,717.6 L134.0,717.2 L135.2,716.6 L136.4,716.4 L137.6,716.5 L138.8,715.7 L140.0,715.9 L141.2,715.4 L142.4,715.2 L143.6,715.1 L144.8,715.7 L146.0,715.0 L147.2,715.0 L148.4,715.1 L149.6,715.5 L150.8,714.6 L152.0,714.8 L153.2,714.5 L154.4,714.5 L155.6,714.1 L156.8,713.8 L158.0,712.6 L159.2,712.4 L160.4,712.1 L161.6,712.7 L162.8,712.7 L164.0,711.4 L165.2,711.4 L166.4,711.3 L167.6,711.3 L168.8,711.6 L170.0,711.7 L171.2,711.1 L172.4,710.7 L173.6,711.3 L174.8,711.1 L176.0,711.6 L177.2,712.5 L178.4,712.4 L179.6,712.4 L180.8,712.9 L182.0,713.3 L183.2,712.7 L184.4,714.1 L185.6,714.2 L186.8,714.6 L188.0,714.8 L189.2,714.6 L190.4,714.9 L191.6,714.7 L192.8,715.4 L194.0,714.9 L195.2,715.1 L196.4,715.3 L197.6,715.3 L198.8,715.4 L200.0,715.0 L201.2,714.8 L202.4,714.9 L203.6,714.7 L204.8,714.9 L206.0,714.4 L207.2,715.2 L208.4,714.8 L209.6,714.1 L210.8,714.1 L212.0,714.1 L213.2,713.9 L214.4,713.6 L215.6,714.5 L216.8,714.8 L218.0,714.3 L219.2,714.4 L220.4,714.1 L221.6,714.2 L222.8,714.6 L224.0,714.6 L225.2,715.3 L226.4,714.7 L227.6,714.6 L228.8,715.6 L230.0,715.2 L231.2,714.9 L232.4,715.4 L233.6,714.9 L234.8,715.5 L236.0,716.0 L237.2,716.0 L238.4,715.8 L239.6,715.5 L240.8,715.6 L242.0,715.4 L243.2,716.0 L244.4,715.7 L245.6,716.0 L246.8,715.5 L248.0,715.4 L249.2,716.0 L250.4,716.2 L251.6,716.1 L252.8,716.0 L254.0,716.4 L255.2,716.7 L256.4,716.7 L257.6,717.3 L258.8,717.6 L260.0,717.8 L261.2,718.2 L262.4,718.8 L263.6,718.9 L264.8,719.1 L266.0,719.2 L267.2,718.8 L268.4,719.0 L269.6,719.0 L270.8,718.9 L272.0,718.4 L273.2,718.2 L274.4,718.1 L275.6,718.0 L276.8,717.9 L278.0,718.1 L279.2,718.2 L280.4,718.1 L281.6,717.8 L282.8,717.8 L284.0,717.8 L285.2,717.2 L286.4,717.5 L287.6,717.8 L288.8,717.7 L290.0,717.8 L291.2,717.6 L292.4,717.5 L293.6,718.0 L294.8,717.7 L296.0,718.1 L297.2,718.3 L298.4,717.9 L299.6,718.0 L300.8,718.4 L302.0,718.1 L303.2,717.6 L304.4,717.5 L305.6,717.5 L306.8,717.9 L308.0,717.8 L309.2,717.2 L310.4,717.6 L311.6,717.6 L312.8,717.1 L314.0,716.6 L315.2,716.6 L316.4,716.0 L317.6,715.7 L318.8,716.4 L320.0,715.9 L321.2,715.6 L322.4,715.8 L323.6,715.1 L324.8,715.4 L326.0,715.1 L327.2,714.2 L328.4,714.0 L329.6,713.9 L330.8,713.6 L332.0,713.8 L333.2,713.2 L334.4,713.3 L335.6,713.1 L336.8,714.2 L338.0,713.6 L339.2,713.9 L340.4,714.1 L341.6,714.6 L342.8,714.2 L344.0,714.9 L345.2,714.5 L346.4,714.6 L347.6,714.7 L348.8,714.1 L350.0,714.5 L351.2,714.1 L352.4,713.8 L353.6,714.6 L354.8,713.8 L356.0,714.1 L357.2,714.3 L358.4,714.2 L359.6,714.0 L360.8,714.3 L362.0,714.5 L363.2,714.9 L364.4,714.2 L365.6,714.8 L366.8,714.6 L368.0,714.8 L369.2,715.4 L370.4,715.2 L371.6,715.3 L372.8,715.6 L374.0,715.8 L375.2,715.4 L376.4,715.6 L377.6,715.5 L378.8,715.6 L380.0,715.8 L381.2,715.6 L382.4,715.8 L383.6,715.8 L384.8,716.3 L386.0,716.1 L387.2,716.3 L388.4,716.4 L389.6,715.8 L390.8,716.2 L392.0,716.6 L393.2,716.5 L394.4,715.9 L395.6,716.0 L396.8,716.3 L398.0,716.0 L399.2,716.3 L400.4,716.2 L401.6,716.7 L402.8,716.9 L404.0,717.0 L405.2,716.5 L406.4,717.0 L407.6,717.1 L408.8,716.7 L410.0,717.4 L411.2,717.5 L412.4,717.0 L413.6,717.6 L414.8,717.3 L416.0,717.4 L417.2,717.9 L418.4,717.8 L419.6,717.4 L420.8,717.6 L422.0,717.8 L423.2,717.7 L424.4,717.7 L425.6,717.9 L426.8,718.2 L428.0,717.8 L429.2,718.3 L430.4,718.3 L431.6,718.1 L432.8,718.4 L434.0,718.7 L435.2,718.7 L436.4,718.5 L437.6,719.1 L438.8,719.1 L440.0,719.3 L441.2,718.9 L442.4,719.1 L443.6,719.0 L444.8,719.5 L446.0,719.3 L447.2,719.4 L448.4,719.6 L449.6,719.9 L450.8,720.0 L452.0,719.8 L453.2,719.8 L454.4,720.3 L455.6,720.2 L456.8,720.4 L458.0,720.2 L459.2,720.3 L460.4,720.7 L461.6,720.7 L462.8,720.6 L464.0,721.1 L465.2,721.0 L466.4,721.2 L467.6,721.0 L468.8,721.4 L470.0,721.2 L471.2,721.6 L472.4,721.5 L473.6,721.5 L474.8,721.5 L476.0,721.7 L477.2,721.5 L478.4,721.4 L479.6,721.6 L480.8,721.5 L482.0,721.5 L483.2,721.5 L484.4,721.5 L485.6,721.5 L486.8,721.5 L488.0,721.6 L489.2,721.7 L490.4,721.6 L491.6,721.6 L492.8,721.5 L494.0,721.6 L495.2,721.5 L496.4,721.6 L497.6,721.5 L498.8,721.8 L500.0,721.7 L501.2,721.6 L502.4,721.7 L503.6,721.9 L504.8,721.6 L506.0,721.8 L507.2,721.7 L508.4,721.8 L509.6,721.9 L510.8,721.7 L512.0,721.8 L513.2,721.8 L514.4,721.9 L515.6,721.8 L516.8,722.0 L518.0,722.0 L519.2,722.1 L520.4,722.1 L521.6,722.2 L522.8,722.1 L524.0,722.2 L525.2,722.3 L526.4,722.6 L527.6,722.5 L528.8,722.6 L530.0,722.6 L531.2,722.9 L532.4,723.0 L533.6,723.0 L534.8,723.0 L536.0,723.0 L537.2,723.0 L538.4,723.1 L539.6,723.0 L540.8,723.1 L542.0,723.0 L543.2,723.2 L544.4,723.2 L545.6,723.1 L546.8,723.0 L548.0,723.2 L549.2,723.0 L550.4,723.1 L551.6,723.0 L552.8,723.1 L554.0,723.1 L555.2,723.1 L556.4,723.0 L557.6,723.1 L558.8,723.0 L560.0,723.0 L561.2,723.0 L562.4,723.1 L563.6,723.0 L564.8,723.0 L566.0,723.0 L567.2,723.0 L568.4,723.1 L569.6,723.1 L570.8,723.2 L572.0,723.1 L573.2,723.2 L574.4,723.2 L575.6,723.1 L576.8,723.0 L578.0,723.2 L579.2,723.0 L580.4,723.2 L581.6,723.1 L582.8,723.0 L584.0,723.2 L585.2,723.2 L586.4,723.1 L587.6,723.2 L588.8,723.2 L590.0,723.0 L591.2,723.1 L592.4,723.1 L593.6,723.2 L594.8,723.2 L596.0,723.2 L597.2,723.1 L598.4,723.2 L599.6,723.1 L600.8,723.1 L602.0,723.0 L603.2,722.9 L604.4,722.9 L605.6,723.0 L606.8,722.9 L608.0,723.1 L609.2,723.0 L610.4,723.0 L611.6,723.0 L612.8,723.0 L614.0,723.0 L615.2,722.8 L616.4,723.1 L617.6,723.0 L618.8,722.9 L620.0,722.9 L621.2,723.0 L622.4,722.8 L623.6,723.0 L624.8,722.8 L626.0,722.8 L627.2,722.8 L628.4,722.9 L629.6,722.8 L630.8,722.9 L632.0,723.0 L633.2,722.8 L634.4,722.8 L635.6,722.8 L636.8,722.9 L638.0,722.9 L639.2,722.8 L640.4,722.8 L641.6,722.7 L642.8,722.7 L644.0,722.7 L645.2,722.8 L646.4,722.7 L647.6,722.8 L648.8,722.6 L650.0,722.6 L651.2,722.7 L652.4,722.8 L653.6,722.8 L654.8,722.8 L656.0,722.6 L657.2,722.7 L658.4,722.7 L659.6,722.7 L660.8,722.5 L662.0,722.8 L663.2,722.6 L664.4,722.8 L665.6,722.8 L666.8,722.5 L668.0,722.6 L669.2,722.7 L670.4,722.7 L671.6,722.6 L672.8,722.5 L674.0,722.5 L675.2,722.7 L676.4,722.5 L677.6,722.6 L678.8,722.4 L680.0,722.5 L681.2,722.7 L682.4,722.4 L683.6,722.6 L684.8,722.4 L686.0,722.5 L687.2,722.3 L688.4,722.1 L689.6,722.2 L690.8,721.9 L692.0,721.7 L693.2,721.6 L694.4,721.7 L695.6,721.5 L696.8,721.4 L698.0,721.2 L699.2,721.2 L700.4,721.1 L701.6,721.2 L702.8,720.8 L704.0,721.0 L705.2,720.9 L706.4,720.5 L707.6,720.9 L708.8,720.8 L710.0,720.9 L711.2,720.6 L712.4,720.6 L713.6,720.7 L714.8,720.9 L716.0,720.7 L717.2,720.6 L718.4,720.7 L719.6,720.6 L720.8,720.5 L722.0,720.5 L723.2,720.8 L724.4,720.6 L725.6,720.9 L726.8,720.6 L728.0,720.6 L729.2,720.7 L730.4,720.6 L731.6,720.6 L732.8,721.2 L734.0,721.4 L735.2,721.7 L736.4,721.9 L737.6,722.1 L738.8,722.2 L740.0,722.1 L741.2,722.2 L742.4,722.0 L743.6,722.2 L744.8,722.2 L746.0,722.3 L747.2,722.3 L748.4,722.2 L749.6,722.2 L750.8,722.5 L752.0,722.3 L753.2,722.4 L754.4,722.4 L755.6,722.4 L756.8,722.6 L758.0,722.7 L759.2,722.5 L760.4,722.7 L761.6,722.6 L762.8,722.7 L764.0,722.7 L765.2,722.7 L766.4,722.7 L767.6,722.7 L768.8,723.0 L770.0,722.9 L771.2,722.9 L772.4,723.1 L773.6,723.2 L774.8,723.0 L776.0,723.0 L777.2,723.0 L778.4,723.0 L779.6,723.1 L780.8,723.1 L782.0,723.2 L783.2,723.2 L784.4,723.3 L785.6,723.3 L786.8,723.3 L788.0,723.3 L789.2,723.3 L790.4,723.3 L791.6,723.3 L792.8,723.3 L794.0,723.2 L795.2,723.3 L796.4,723.3 L797.6,723.3 L798.8,723.3 L800.0,723.3 L801.2,723.3 L802.4,723.3 L803.6,723.3 L804.8,723.3 L806.0,723.3 L807.2,723.3 L808.4,723.3 L809.6,723.3 L810.8,723.3 L812.0,723.3 L813.2,723.3 L814.4,723.3 L815.6,723.3 L816.8,723.3 L818.0,723.3 L819.2,723.3 L820.4,723.3 L821.6,723.3 L822.8,723.3 L824.0,723.3 L825.2,723.3 L826.4,723.3 L827.6,723.3 L828.8,723.3 L830.0,723.3 L831.2,723.3 L832.4,723.3 L833.6,723.3 L834.8,723.3 L836.0,723.3 L837.2,723.3 L838.4,723.3 L839.6,723.3 L840.8,723.3 L842.0,723.3 L843.2,723.3 L844.4,723.3 L845.6,723.3 L846.8,723.3 L848.0,723.3 L849.2,723.3 L850.4,723.3 L851.6,723.3 L852.8,723.3 L854.0,723.3 L855.2,723.3 L856.4,723.3 L857.6,723.3 L858.8,723.3 L860.0,723.3 L861.2,723.3 L862.4,723.3 L863.6,723.3 L864.8,723.3 L866.0,723.3 L867.2,723.3 L868.4,723.3 L869.6,723.3 L870.8,723.3 L872.0,723.3 L873.2,723.3 L874.4,723.3 L875.6,723.3 L876.8,723.3 L878.0,723.3 L879.2,723.3 L880.4,723.3 L881.6,723.3 L882.8,723.3 L884.0,723.3 L885.2,723.3 L886.4,723.3 L887.6,723.3 L888.8,723.3 L890.0,723.3 L891.2,723.3 L892.4,723.3 L893.6,723.3 L894.8,723.3 L896.0,723.3 L897.2,723.3 L898.4,723.3 L899.6,723.3 L900.8,723.3 L900.8,724.6 L45.2,724.6 Z" fill="#eff2f5"/>
<!-- handle -->
<filter id="sh" x="-50%" y="-50%" width="200%" height="200%"><feDropShadow dx="0" dy="1" stdDeviation="1.6" flood-color="#58667e" flood-opacity="0.22"/></filter>
<rect x="889.8" y="686.8" width="18.6" height="24.8" rx="9" fill="#fff" filter="url(#sh)"/>
<line x1="896.9" x2="896.9" y1="695.6" y2="703.4" stroke="#97a1b4" stroke-width="1.2"/>
<line x1="900.3" x2="900.3" y1="695.6" y2="703.4" stroke="#97a1b4" stroke-width="1.2"/>
</svg>
<div class="t" style="left:64.7px;top:25.0px;font-size:17.2px;font-weight:normal;color:#3861fb;letter-spacing:0.41px;transform:scaleX(1.101);transform-origin:0 0;-webkit-text-stroke:0.35px #3861fb;">Chart</div>
<div class="t" style="left:152.4px;top:25.0px;font-size:17.2px;font-weight:normal;color:#0d1421;letter-spacing:0.31px;transform:scaleX(1.075);transform-origin:0 0;-webkit-text-stroke:0.30px #0d1421;">Markets</div>
<div class="t" style="left:261.2px;top:25.0px;font-size:17.2px;font-weight:normal;color:#0d1421;letter-spacing:0.41px;transform:scaleX(1.072);transform-origin:0 0;-webkit-text-stroke:0.30px #0d1421;">News</div>
<div class="t" style="left:348.7px;top:25.0px;font-size:17.2px;font-weight:normal;color:#0d1421;letter-spacing:0.25px;transform:scaleX(1.066);transform-origin:0 0;-webkit-text-stroke:0.30px #0d1421;">Token Unlocks</div>
<div class="t" style="left:513.4px;top:25.0px;font-size:17.2px;font-weight:normal;color:#0d1421;letter-spacing:0.40px;transform:scaleX(1.090);transform-origin:0 0;-webkit-text-stroke:0.30px #0d1421;">About</div>
<div class="t" style="left:604.9px;top:25.0px;font-size:17.2px;font-weight:normal;color:#0d1421;letter-spacing:0.30px;transform:scaleX(1.088);transform-origin:0 0;-webkit-text-stroke:0.30px #0d1421;">Analytics</div>
<div class="t" style="left:724.4px;top:25.0px;font-size:17.2px;font-weight:normal;color:#0d1421;letter-spacing:0.16px;transform:scaleX(1.046);transform-origin:0 0;-webkit-text-stroke:0.30px #0d1421;">Similar Coins</div>
<div class="t" style="left:874.7px;top:25.0px;font-size:17.2px;font-weight:normal;color:#0d1421;letter-spacing:0.23px;transform:scaleX(1.061);transform-origin:0 0;-webkit-text-stroke:0.30px #0d1421;">Yields</div>
<div class="t" style="left:60.6px;top:106.8px;font-size:14.2px;font-weight:normal;color:#58667e;letter-spacing:0.32px;transform:scaleX(1.101);transform-origin:0 0;-webkit-text-stroke:0.50px #58667e;">Price</div>
<div class="t" style="left:123.4px;top:106.8px;font-size:14.2px;font-weight:normal;color:#58667e;letter-spacing:0.31px;transform:scaleX(1.104);transform-origin:0 0;-webkit-text-stroke:0.50px #58667e;">Market cap</div>
<div class="t" style="left:661.7px;top:105.9px;font-size:14.2px;font-weight:normal;color:#58667e;letter-spacing:0.02px;transform:scaleX(1.002);transform-origin:0 0;-webkit-text-stroke:0.55px #58667e;">1D</div>
<div class="t" style="left:702.9px;top:105.9px;font-size:14.2px;font-weight:normal;color:#58667e;letter-spacing:0.41px;transform:scaleX(1.056);transform-origin:0 0;-webkit-text-stroke:0.55px #58667e;">7D</div>
<div class="t" style="left:744.9px;top:105.9px;font-size:14.2px;font-weight:normal;color:#58667e;letter-spacing:0.31px;transform:scaleX(1.038);transform-origin:0 0;-webkit-text-stroke:0.55px #58667e;">1M</div>
<div class="t" style="left:788.1px;top:105.9px;font-size:14.2px;font-weight:normal;color:#58667e;letter-spacing:-0.24px;transform:scaleX(0.969);transform-origin:0 0;-webkit-text-stroke:0.55px #58667e;">1Y</div>
<div class="t" style="left:828.7px;top:105.9px;font-size:14.2px;font-weight:normal;color:#58667e;letter-spacing:0.36px;transform:scaleX(1.121);transform-origin:0 0;-webkit-text-stroke:0.55px #58667e;">All</div>
<div class="t" style="left:879.5px;top:106.2px;font-size:14.2px;font-weight:normal;color:#58667e;letter-spacing:0.14px;transform:scaleX(1.022);transform-origin:0 0;-webkit-text-stroke:0.30px #58667e;">LOG</div>
<div class="t" style="left:909.0px;top:242.2px;font-size:14.2px;font-weight:normal;color:#7b859a;letter-spacing:0.06px;transform:scaleX(1.015);transform-origin:0 0;-webkit-text-stroke:0.45px #7b859a;">0.74</div>
<div class="t" style="left:909.0px;top:315.2px;font-size:14.2px;font-weight:normal;color:#7b859a;letter-spacing:0.06px;transform:scaleX(1.015);transform-origin:0 0;-webkit-text-stroke:0.45px #7b859a;">0.73</div>
<div class="t" style="left:909.0px;top:388.2px;font-size:14.2px;font-weight:normal;color:#7b859a;letter-spacing:0.06px;transform:scaleX(1.015);transform-origin:0 0;-webkit-text-stroke:0.45px #7b859a;">0.72</div>
<div class="t" style="left:909.0px;top:461.2px;font-size:14.2px;font-weight:normal;color:#7b859a;letter-spacing:0.06px;transform:scaleX(1.015);transform-origin:0 0;-webkit-text-stroke:0.45px #7b859a;">0.71</div>
<div class="t" style="left:909.0px;top:534.0px;font-size:14.2px;font-weight:normal;color:#7b859a;letter-spacing:0.06px;transform:scaleX(1.015);transform-origin:0 0;-webkit-text-stroke:0.45px #7b859a;">0.70</div>
<div class="t" style="left:917.4px;top:591.5px;font-size:14.6px;font-weight:bold;color:#616e85;letter-spacing:0.04px;transform:scaleX(1.007);transform-origin:0 0;">USD</div>
<div class="t" style="left:908.9px;top:266.1px;font-size:13px;font-weight:bold;color:#ffffff;letter-spacing:0.28px;transform:scaleX(1.083);transform-origin:0 0;">0.74</div>
<div class="t" style="left:52.0px;top:296.9px;font-size:13.8px;font-weight:normal;color:#58667e;letter-spacing:0.23px;transform:scaleX(1.068);transform-origin:0 0;-webkit-text-stroke:0.35px #58667e;">0.7329</div>
<div class="t" style="left:45.4px;top:617.2px;font-size:14px;font-weight:normal;color:#7f899c;letter-spacing:0.21px;transform:scaleX(1.061);transform-origin:0 0;-webkit-text-stroke:0.20px #7f899c;">8 Oct</div>
<div class="t" style="left:126.2px;top:617.2px;font-size:14px;font-weight:normal;color:#7f899c;letter-spacing:0.13px;transform:scaleX(1.036);transform-origin:0 0;-webkit-text-stroke:0.20px #7f899c;">6:00 PM</div>
<div class="t" style="left:233.0px;top:617.2px;font-size:14px;font-weight:normal;color:#7f899c;letter-spacing:0.13px;transform:scaleX(1.036);transform-origin:0 0;-webkit-text-stroke:0.20px #7f899c;">9:00 PM</div>
<div class="t" style="left:349.7px;top:617.2px;font-size:14px;font-weight:normal;color:#7f899c;letter-spacing:0.21px;transform:scaleX(1.061);transform-origin:0 0;-webkit-text-stroke:0.20px #7f899c;">9 Oct</div>
<div class="t" style="left:447.5px;top:617.2px;font-size:14px;font-weight:normal;color:#7f899c;letter-spacing:0.16px;transform:scaleX(1.047);transform-origin:0 0;-webkit-text-stroke:0.20px #7f899c;">3:00 AM</div>
<div class="t" style="left:554.6px;top:617.2px;font-size:14px;font-weight:normal;color:#7f899c;letter-spacing:0.16px;transform:scaleX(1.047);transform-origin:0 0;-webkit-text-stroke:0.20px #7f899c;">6:00 AM</div>
<div class="t" style="left:661.6px;top:617.2px;font-size:14px;font-weight:normal;color:#7f899c;letter-spacing:0.16px;transform:scaleX(1.047);transform-origin:0 0;-webkit-text-stroke:0.20px #7f899c;">9:00 AM</div>
<div class="t" style="left:765.9px;top:617.2px;font-size:14px;font-weight:normal;color:#7f899c;letter-spacing:0.03px;transform:scaleX(1.009);transform-origin:0 0;-webkit-text-stroke:0.20px #7f899c;">12:00 PM</div>
<div class="t" style="left:58.5px;top:730.9px;font-size:13.4px;font-weight:normal;color:#808a9d;letter-spacing:0.25px;transform:scaleX(1.082);transform-origin:0 0;-webkit-text-stroke:0.15px #808a9d;">May '22</div>
<div class="t" style="left:171.8px;top:730.9px;font-size:13.4px;font-weight:normal;color:#808a9d;letter-spacing:0.22px;transform:scaleX(1.073);transform-origin:0 0;-webkit-text-stroke:0.15px #808a9d;">Sep '22</div>
<div class="t" style="left:284.6px;top:730.9px;font-size:13.4px;font-weight:normal;color:#808a9d;letter-spacing:0.23px;transform:scaleX(1.081);transform-origin:0 0;-webkit-text-stroke:0.15px #808a9d;">Jan '23</div>
<div class="t" style="left:392.4px;top:730.9px;font-size:13.4px;font-weight:normal;color:#808a9d;letter-spacing:0.24px;transform:scaleX(1.077);transform-origin:0 0;-webkit-text-stroke:0.15px #808a9d;">May '23</div>
<div class="t" style="left:506.2px;top:730.9px;font-size:13.4px;font-weight:normal;color:#808a9d;letter-spacing:0.21px;transform:scaleX(1.070);transform-origin:0 0;-webkit-text-stroke:0.15px #808a9d;">Sep '23</div>
<div class="t" style="left:618.6px;top:730.9px;font-size:13.4px;font-weight:normal;color:#808a9d;letter-spacing:0.22px;transform:scaleX(1.077);transform-origin:0 0;-webkit-text-stroke:0.15px #808a9d;">Jan '24</div>
<div class="t" style="left:727.2px;top:730.9px;font-size:13.4px;font-weight:normal;color:#808a9d;letter-spacing:0.23px;transform:scaleX(1.076);transform-origin:0 0;-webkit-text-stroke:0.15px #808a9d;">May '24</div>
<div class="t" style="left:840.8px;top:730.9px;font-size:13.4px;font-weight:normal;color:#808a9d;letter-spacing:0.19px;transform:scaleX(1.062);transform-origin:0 0;-webkit-text-stroke:0.15px #808a9d;">Sep '24</div>

</body></html>
